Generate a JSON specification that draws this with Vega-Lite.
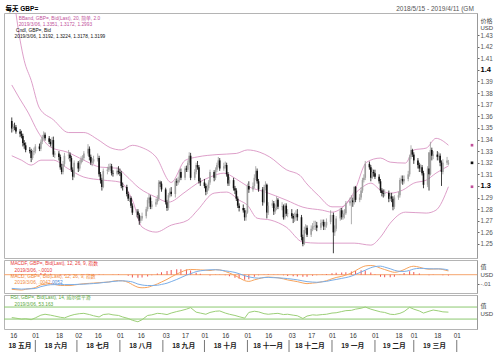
{
"$schema": "https://vega.github.io/schema/vega-lite/v6.json",
"background": "white",
"padding": {"left": 3, "top": 4, "right": 0, "bottom": 0},
"config": {"font": "Liberation Sans, Noto Sans CJK SC, sans-serif", "view": {"stroke": "#b4b4b4"}, "axis": {"grid": false, "labelOverlap": false}},
"spacing": 0,
"resolve": {"scale": {"x": "shared"}},
"datasets": {
"candles": [
{"d":"2018-05-15","o":1.3560,"c":1.3495,"h":1.3590,"l":1.3460},
{"d":"2018-05-16","o":1.3495,"c":1.3510,"h":1.3535,"l":1.3470},
{"d":"2018-05-17","o":1.3510,"c":1.3505,"h":1.3545,"l":1.3480},
{"d":"2018-05-18","o":1.3505,"c":1.3470,"h":1.3525,"l":1.3450},
{"d":"2018-05-21","o":1.3470,"c":1.3450,"h":1.3490,"l":1.3420},
{"d":"2018-05-22","o":1.3450,"c":1.3430,"h":1.3475,"l":1.3410},
{"d":"2018-05-23","o":1.3430,"c":1.3370,"h":1.3450,"l":1.3340},
{"d":"2018-05-24","o":1.3370,"c":1.3350,"h":1.3395,"l":1.3320},
{"d":"2018-05-25","o":1.3350,"c":1.3310,"h":1.3375,"l":1.3290},
{"d":"2018-05-28","o":1.3310,"c":1.3300,"h":1.3335,"l":1.3280},
{"d":"2018-05-29","o":1.3300,"c":1.3240,"h":1.3320,"l":1.3205},
{"d":"2018-05-30","o":1.3240,"c":1.3290,"h":1.3310,"l":1.3225},
{"d":"2018-05-31","o":1.3290,"c":1.3300,"h":1.3330,"l":1.3265},
{"d":"2018-06-01","o":1.3300,"c":1.3340,"h":1.3360,"l":1.3280},
{"d":"2018-06-04","o":1.3340,"c":1.3320,"h":1.3365,"l":1.3300},
{"d":"2018-06-05","o":1.3320,"c":1.3380,"h":1.3400,"l":1.3300},
{"d":"2018-06-06","o":1.3380,"c":1.3420,"h":1.3440,"l":1.3360},
{"d":"2018-06-07","o":1.3420,"c":1.3440,"h":1.3470,"l":1.3400},
{"d":"2018-06-08","o":1.3440,"c":1.3410,"h":1.3460,"l":1.3390},
{"d":"2018-06-11","o":1.3410,"c":1.3380,"h":1.3430,"l":1.3360},
{"d":"2018-06-12","o":1.3380,"c":1.3360,"h":1.3405,"l":1.3340},
{"d":"2018-06-13","o":1.3360,"c":1.3395,"h":1.3420,"l":1.3330},
{"d":"2018-06-14","o":1.3395,"c":1.3270,"h":1.3425,"l":1.3250},
{"d":"2018-06-15","o":1.3270,"c":1.3280,"h":1.3300,"l":1.3240},
{"d":"2018-06-18","o":1.3280,"c":1.3250,"h":1.3300,"l":1.3220},
{"d":"2018-06-19","o":1.3250,"c":1.3160,"h":1.3270,"l":1.3140},
{"d":"2018-06-20","o":1.3160,"c":1.3120,"h":1.3190,"l":1.3100},
{"d":"2018-06-21","o":1.3120,"c":1.3190,"h":1.3215,"l":1.3100},
{"d":"2018-06-22","o":1.3190,"c":1.3260,"h":1.3285,"l":1.3170},
{"d":"2018-06-25","o":1.3260,"c":1.3270,"h":1.3310,"l":1.3230},
{"d":"2018-06-26","o":1.3270,"c":1.3240,"h":1.3290,"l":1.3210},
{"d":"2018-06-27","o":1.3240,"c":1.3140,"h":1.3260,"l":1.3120},
{"d":"2018-06-28","o":1.3140,"c":1.3080,"h":1.3160,"l":1.3050},
{"d":"2018-06-29","o":1.3080,"c":1.3200,"h":1.3220,"l":1.3070},
{"d":"2018-07-02","o":1.3200,"c":1.3150,"h":1.3215,"l":1.3120},
{"d":"2018-07-03","o":1.3150,"c":1.3200,"h":1.3225,"l":1.3130},
{"d":"2018-07-04","o":1.3200,"c":1.3230,"h":1.3255,"l":1.3185},
{"d":"2018-07-05","o":1.3230,"c":1.3240,"h":1.3265,"l":1.3205},
{"d":"2018-07-06","o":1.3240,"c":1.3280,"h":1.3300,"l":1.3220},
{"d":"2018-07-09","o":1.3280,"c":1.3320,"h":1.3360,"l":1.3260},
{"d":"2018-07-10","o":1.3320,"c":1.3250,"h":1.3340,"l":1.3220},
{"d":"2018-07-11","o":1.3250,"c":1.3200,"h":1.3270,"l":1.3180},
{"d":"2018-07-12","o":1.3200,"c":1.3210,"h":1.3240,"l":1.3170},
{"d":"2018-07-13","o":1.3210,"c":1.3230,"h":1.3260,"l":1.3190},
{"d":"2018-07-16","o":1.3230,"c":1.3240,"h":1.3280,"l":1.3210},
{"d":"2018-07-17","o":1.3240,"c":1.3100,"h":1.3260,"l":1.3080},
{"d":"2018-07-18","o":1.3100,"c":1.3050,"h":1.3120,"l":1.3020},
{"d":"2018-07-19","o":1.3050,"c":1.2990,"h":1.3070,"l":1.2960},
{"d":"2018-07-20","o":1.2990,"c":1.3130,"h":1.3150,"l":1.2980},
{"d":"2018-07-23","o":1.3130,"c":1.3140,"h":1.3165,"l":1.3100},
{"d":"2018-07-24","o":1.3140,"c":1.3160,"h":1.3190,"l":1.3120},
{"d":"2018-07-25","o":1.3160,"c":1.3170,"h":1.3195,"l":1.3130},
{"d":"2018-07-26","o":1.3170,"c":1.3110,"h":1.3190,"l":1.3090},
{"d":"2018-07-27","o":1.3110,"c":1.3105,"h":1.3135,"l":1.3080},
{"d":"2018-07-30","o":1.3105,"c":1.3130,"h":1.3160,"l":1.3090},
{"d":"2018-07-31","o":1.3130,"c":1.3120,"h":1.3170,"l":1.3100},
{"d":"2018-08-01","o":1.3120,"c":1.3110,"h":1.3150,"l":1.3085},
{"d":"2018-08-02","o":1.3110,"c":1.3000,"h":1.3130,"l":1.2980},
{"d":"2018-08-03","o":1.3000,"c":1.2990,"h":1.3030,"l":1.2960},
{"d":"2018-08-06","o":1.2990,"c":1.2930,"h":1.3010,"l":1.2910},
{"d":"2018-08-07","o":1.2930,"c":1.2890,"h":1.2950,"l":1.2870},
{"d":"2018-08-08","o":1.2890,"c":1.2895,"h":1.2920,"l":1.2860},
{"d":"2018-08-09","o":1.2895,"c":1.2830,"h":1.2910,"l":1.2810},
{"d":"2018-08-10","o":1.2830,"c":1.2770,"h":1.2850,"l":1.2750},
{"d":"2018-08-13","o":1.2770,"c":1.2780,"h":1.2800,"l":1.2730},
{"d":"2018-08-14","o":1.2780,"c":1.2750,"h":1.2800,"l":1.2720},
{"d":"2018-08-15","o":1.2750,"c":1.2700,"h":1.2765,"l":1.2665},
{"d":"2018-08-16","o":1.2700,"c":1.2720,"h":1.2740,"l":1.2680},
{"d":"2018-08-17","o":1.2720,"c":1.2740,"h":1.2770,"l":1.2700},
{"d":"2018-08-20","o":1.2740,"c":1.2800,"h":1.2820,"l":1.2720},
{"d":"2018-08-21","o":1.2800,"c":1.2880,"h":1.2900,"l":1.2780},
{"d":"2018-08-22","o":1.2880,"c":1.2900,"h":1.2930,"l":1.2850},
{"d":"2018-08-23","o":1.2900,"c":1.2820,"h":1.2920,"l":1.2800},
{"d":"2018-08-24","o":1.2820,"c":1.2840,"h":1.2870,"l":1.2800},
{"d":"2018-08-27","o":1.2840,"c":1.2860,"h":1.2890,"l":1.2820},
{"d":"2018-08-28","o":1.2860,"c":1.2890,"h":1.2920,"l":1.2840},
{"d":"2018-08-29","o":1.2890,"c":1.3030,"h":1.3050,"l":1.2870},
{"d":"2018-08-30","o":1.3030,"c":1.3020,"h":1.3045,"l":1.2990},
{"d":"2018-08-31","o":1.3020,"c":1.2970,"h":1.3040,"l":1.2950},
{"d":"2018-09-03","o":1.2970,"c":1.2860,"h":1.2985,"l":1.2840},
{"d":"2018-09-04","o":1.2860,"c":1.2810,"h":1.2880,"l":1.2785},
{"d":"2018-09-05","o":1.2810,"c":1.2920,"h":1.2940,"l":1.2790},
{"d":"2018-09-06","o":1.2920,"c":1.2950,"h":1.2980,"l":1.2900},
{"d":"2018-09-07","o":1.2950,"c":1.2930,"h":1.2990,"l":1.2910},
{"d":"2018-09-10","o":1.2930,"c":1.3040,"h":1.3060,"l":1.2900},
{"d":"2018-09-11","o":1.3040,"c":1.3030,"h":1.3065,"l":1.3000},
{"d":"2018-09-12","o":1.3030,"c":1.3050,"h":1.3080,"l":1.3010},
{"d":"2018-09-13","o":1.3050,"c":1.3120,"h":1.3140,"l":1.3030},
{"d":"2018-09-14","o":1.3120,"c":1.3070,"h":1.3150,"l":1.3050},
{"d":"2018-09-17","o":1.3070,"c":1.3150,"h":1.3170,"l":1.3050},
{"d":"2018-09-18","o":1.3150,"c":1.3140,"h":1.3175,"l":1.3120},
{"d":"2018-09-19","o":1.3140,"c":1.3200,"h":1.3220,"l":1.3120},
{"d":"2018-09-20","o":1.3200,"c":1.3260,"h":1.3290,"l":1.3180},
{"d":"2018-09-21","o":1.3260,"c":1.3070,"h":1.3285,"l":1.3050},
{"d":"2018-09-24","o":1.3070,"c":1.3120,"h":1.3145,"l":1.3050},
{"d":"2018-09-25","o":1.3120,"c":1.3180,"h":1.3200,"l":1.3100},
{"d":"2018-09-26","o":1.3180,"c":1.3160,"h":1.3215,"l":1.3140},
{"d":"2018-09-27","o":1.3160,"c":1.3040,"h":1.3180,"l":1.3020},
{"d":"2018-09-28","o":1.3040,"c":1.3030,"h":1.3070,"l":1.3000},
{"d":"2018-10-01","o":1.3030,"c":1.3000,"h":1.3060,"l":1.2980},
{"d":"2018-10-02","o":1.3000,"c":1.2950,"h":1.3020,"l":1.2920},
{"d":"2018-10-03","o":1.2950,"c":1.2980,"h":1.3010,"l":1.2930},
{"d":"2018-10-04","o":1.2980,"c":1.3030,"h":1.3050,"l":1.2960},
{"d":"2018-10-05","o":1.3030,"c":1.3120,"h":1.3140,"l":1.3010},
{"d":"2018-10-08","o":1.3120,"c":1.3070,"h":1.3135,"l":1.3040},
{"d":"2018-10-09","o":1.3070,"c":1.3140,"h":1.3160,"l":1.3050},
{"d":"2018-10-10","o":1.3140,"c":1.3180,"h":1.3200,"l":1.3120},
{"d":"2018-10-11","o":1.3180,"c":1.3220,"h":1.3250,"l":1.3160},
{"d":"2018-10-12","o":1.3220,"c":1.3150,"h":1.3240,"l":1.3130},
{"d":"2018-10-15","o":1.3150,"c":1.3170,"h":1.3200,"l":1.3130},
{"d":"2018-10-16","o":1.3170,"c":1.3180,"h":1.3210,"l":1.3150},
{"d":"2018-10-17","o":1.3180,"c":1.3100,"h":1.3200,"l":1.3080},
{"d":"2018-10-18","o":1.3100,"c":1.3020,"h":1.3120,"l":1.3000},
{"d":"2018-10-19","o":1.3020,"c":1.3050,"h":1.3080,"l":1.3000},
{"d":"2018-10-22","o":1.3050,"c":1.2980,"h":1.3070,"l":1.2960},
{"d":"2018-10-23","o":1.2980,"c":1.2960,"h":1.3000,"l":1.2930},
{"d":"2018-10-24","o":1.2960,"c":1.2890,"h":1.2980,"l":1.2870},
{"d":"2018-10-25","o":1.2890,"c":1.2830,"h":1.2910,"l":1.2810},
{"d":"2018-10-26","o":1.2830,"c":1.2810,"h":1.2850,"l":1.2780},
{"d":"2018-10-29","o":1.2810,"c":1.2790,"h":1.2840,"l":1.2770},
{"d":"2018-10-30","o":1.2790,"c":1.2730,"h":1.2810,"l":1.2700},
{"d":"2018-10-31","o":1.2730,"c":1.2770,"h":1.2790,"l":1.2700},
{"d":"2018-11-01","o":1.2770,"c":1.3000,"h":1.3020,"l":1.2760},
{"d":"2018-11-02","o":1.3000,"c":1.2970,"h":1.3040,"l":1.2940},
{"d":"2018-11-05","o":1.2970,"c":1.3000,"h":1.3030,"l":1.2950},
{"d":"2018-11-06","o":1.3000,"c":1.3070,"h":1.3100,"l":1.2980},
{"d":"2018-11-07","o":1.3070,"c":1.3130,"h":1.3170,"l":1.3050},
{"d":"2018-11-08","o":1.3130,"c":1.3040,"h":1.3150,"l":1.3020},
{"d":"2018-11-09","o":1.3040,"c":1.2970,"h":1.3060,"l":1.2950},
{"d":"2018-11-12","o":1.2970,"c":1.2860,"h":1.2990,"l":1.2830},
{"d":"2018-11-13","o":1.2860,"c":1.2990,"h":1.3010,"l":1.2850},
{"d":"2018-11-14","o":1.2990,"c":1.3010,"h":1.3040,"l":1.2960},
{"d":"2018-11-15","o":1.3010,"c":1.2770,"h":1.3020,"l":1.2720},
{"d":"2018-11-16","o":1.2770,"c":1.2830,"h":1.2860,"l":1.2750},
{"d":"2018-11-19","o":1.2830,"c":1.2850,"h":1.2880,"l":1.2810},
{"d":"2018-11-20","o":1.2850,"c":1.2780,"h":1.2870,"l":1.2750},
{"d":"2018-11-21","o":1.2780,"c":1.2810,"h":1.2840,"l":1.2760},
{"d":"2018-11-22","o":1.2810,"c":1.2880,"h":1.2910,"l":1.2790},
{"d":"2018-11-23","o":1.2880,"c":1.2820,"h":1.2895,"l":1.2800},
{"d":"2018-11-26","o":1.2820,"c":1.2825,"h":1.2860,"l":1.2790},
{"d":"2018-11-27","o":1.2825,"c":1.2730,"h":1.2840,"l":1.2710},
{"d":"2018-11-28","o":1.2730,"c":1.2830,"h":1.2850,"l":1.2710},
{"d":"2018-11-29","o":1.2830,"c":1.2760,"h":1.2850,"l":1.2740},
{"d":"2018-11-30","o":1.2760,"c":1.2765,"h":1.2800,"l":1.2730},
{"d":"2018-12-03","o":1.2765,"c":1.2740,"h":1.2800,"l":1.2720},
{"d":"2018-12-04","o":1.2740,"c":1.2720,"h":1.2760,"l":1.2680},
{"d":"2018-12-05","o":1.2720,"c":1.2730,"h":1.2770,"l":1.2690},
{"d":"2018-12-06","o":1.2730,"c":1.2760,"h":1.2790,"l":1.2700},
{"d":"2018-12-07","o":1.2760,"c":1.2730,"h":1.2800,"l":1.2700},
{"d":"2018-12-10","o":1.2730,"c":1.2560,"h":1.2750,"l":1.2530},
{"d":"2018-12-11","o":1.2560,"c":1.2500,"h":1.2580,"l":1.2480},
{"d":"2018-12-12","o":1.2500,"c":1.2620,"h":1.2650,"l":1.2490},
{"d":"2018-12-13","o":1.2620,"c":1.2640,"h":1.2670,"l":1.2590},
{"d":"2018-12-14","o":1.2640,"c":1.2580,"h":1.2660,"l":1.2560},
{"d":"2018-12-17","o":1.2580,"c":1.2630,"h":1.2660,"l":1.2560},
{"d":"2018-12-18","o":1.2630,"c":1.2650,"h":1.2680,"l":1.2610},
{"d":"2018-12-19","o":1.2650,"c":1.2655,"h":1.2700,"l":1.2620},
{"d":"2018-12-20","o":1.2655,"c":1.2660,"h":1.2700,"l":1.2620},
{"d":"2018-12-21","o":1.2660,"c":1.2640,"h":1.2690,"l":1.2610},
{"d":"2018-12-24","o":1.2640,"c":1.2680,"h":1.2710,"l":1.2620},
{"d":"2018-12-25","o":1.2680,"c":1.2690,"h":1.2710,"l":1.2660},
{"d":"2018-12-26","o":1.2690,"c":1.2650,"h":1.2710,"l":1.2620},
{"d":"2018-12-27","o":1.2650,"c":1.2660,"h":1.2690,"l":1.2620},
{"d":"2018-12-28","o":1.2660,"c":1.2690,"h":1.2720,"l":1.2640},
{"d":"2018-12-31","o":1.2690,"c":1.2750,"h":1.2790,"l":1.2670},
{"d":"2019-01-02","o":1.2750,"c":1.2600,"h":1.2770,"l":1.2420},
{"d":"2019-01-03","o":1.2600,"c":1.2630,"h":1.2660,"l":1.2570},
{"d":"2019-01-04","o":1.2630,"c":1.2720,"h":1.2740,"l":1.2610},
{"d":"2019-01-07","o":1.2720,"c":1.2790,"h":1.2810,"l":1.2700},
{"d":"2019-01-08","o":1.2790,"c":1.2730,"h":1.2810,"l":1.2710},
{"d":"2019-01-09","o":1.2730,"c":1.2760,"h":1.2790,"l":1.2710},
{"d":"2019-01-10","o":1.2760,"c":1.2765,"h":1.2800,"l":1.2720},
{"d":"2019-01-11","o":1.2765,"c":1.2850,"h":1.2870,"l":1.2750},
{"d":"2019-01-14","o":1.2850,"c":1.2870,"h":1.2900,"l":1.2830},
{"d":"2019-01-15","o":1.2870,"c":1.2875,"h":1.2920,"l":1.2670},
{"d":"2019-01-16","o":1.2875,"c":1.2860,"h":1.2900,"l":1.2820},
{"d":"2019-01-17","o":1.2860,"c":1.2990,"h":1.3000,"l":1.2840},
{"d":"2019-01-18","o":1.2990,"c":1.2880,"h":1.3000,"l":1.2860},
{"d":"2019-01-21","o":1.2880,"c":1.2900,"h":1.2930,"l":1.2860},
{"d":"2019-01-22","o":1.2900,"c":1.2960,"h":1.2990,"l":1.2880},
{"d":"2019-01-23","o":1.2960,"c":1.3050,"h":1.3070,"l":1.2940},
{"d":"2019-01-24","o":1.3050,"c":1.3070,"h":1.3100,"l":1.3030},
{"d":"2019-01-25","o":1.3070,"c":1.3190,"h":1.3215,"l":1.3050},
{"d":"2019-01-28","o":1.3190,"c":1.3160,"h":1.3210,"l":1.3140},
{"d":"2019-01-29","o":1.3160,"c":1.3070,"h":1.3180,"l":1.3040},
{"d":"2019-01-30","o":1.3070,"c":1.3120,"h":1.3150,"l":1.3060},
{"d":"2019-01-31","o":1.3120,"c":1.3110,"h":1.3140,"l":1.3080},
{"d":"2019-02-01","o":1.3110,"c":1.3080,"h":1.3140,"l":1.3060},
{"d":"2019-02-04","o":1.3080,"c":1.3040,"h":1.3100,"l":1.3020},
{"d":"2019-02-05","o":1.3040,"c":1.2960,"h":1.3060,"l":1.2940},
{"d":"2019-02-06","o":1.2960,"c":1.2940,"h":1.2980,"l":1.2910},
{"d":"2019-02-07","o":1.2940,"c":1.2930,"h":1.2970,"l":1.2900},
{"d":"2019-02-08","o":1.2930,"c":1.2940,"h":1.2970,"l":1.2910},
{"d":"2019-02-11","o":1.2940,"c":1.2890,"h":1.2960,"l":1.2860},
{"d":"2019-02-12","o":1.2890,"c":1.2910,"h":1.2940,"l":1.2870},
{"d":"2019-02-13","o":1.2910,"c":1.2890,"h":1.2940,"l":1.2860},
{"d":"2019-02-14","o":1.2890,"c":1.2820,"h":1.2910,"l":1.2790},
{"d":"2019-02-15","o":1.2820,"c":1.2900,"h":1.2920,"l":1.2800},
{"d":"2019-02-18","o":1.2900,"c":1.2920,"h":1.2950,"l":1.2880},
{"d":"2019-02-19","o":1.2920,"c":1.3050,"h":1.3070,"l":1.2900},
{"d":"2019-02-20","o":1.3050,"c":1.3060,"h":1.3090,"l":1.3020},
{"d":"2019-02-21","o":1.3060,"c":1.3040,"h":1.3090,"l":1.3010},
{"d":"2019-02-22","o":1.3040,"c":1.3060,"h":1.3090,"l":1.3020},
{"d":"2019-02-25","o":1.3060,"c":1.3100,"h":1.3130,"l":1.3040},
{"d":"2019-02-26","o":1.3100,"c":1.3250,"h":1.3270,"l":1.3080},
{"d":"2019-02-27","o":1.3250,"c":1.3310,"h":1.3350,"l":1.3230},
{"d":"2019-02-28","o":1.3310,"c":1.3270,"h":1.3320,"l":1.3250},
{"d":"2019-03-01","o":1.3270,"c":1.3220,"h":1.3290,"l":1.3190},
{"d":"2019-03-04","o":1.3220,"c":1.3180,"h":1.3240,"l":1.3150},
{"d":"2019-03-05","o":1.3180,"c":1.3150,"h":1.3200,"l":1.3120},
{"d":"2019-03-06","o":1.3150,"c":1.3160,"h":1.3190,"l":1.3120},
{"d":"2019-03-07","o":1.3160,"c":1.3110,"h":1.3180,"l":1.3090},
{"d":"2019-03-08","o":1.3110,"c":1.3010,"h":1.3130,"l":1.2980},
{"d":"2019-03-11","o":1.3010,"c":1.3150,"h":1.3170,"l":1.2990},
{"d":"2019-03-12","o":1.3150,"c":1.3100,"h":1.3290,"l":1.2960},
{"d":"2019-03-13","o":1.3100,"c":1.3310,"h":1.3380,"l":1.3090},
{"d":"2019-03-14","o":1.3310,"c":1.3260,"h":1.3330,"l":1.3220},
{"d":"2019-03-15","o":1.3260,"c":1.3270,"h":1.3300,"l":1.3230},
{"d":"2019-03-18","o":1.3270,"c":1.3250,"h":1.3300,"l":1.3220},
{"d":"2019-03-19","o":1.3250,"c":1.3260,"h":1.3290,"l":1.3220},
{"d":"2019-03-20","o":1.3260,"c":1.3200,"h":1.3280,"l":1.3170},
{"d":"2019-03-21","o":1.3200,"c":1.3120,"h":1.3220,"l":1.3000},
{"d":"2019-03-22","o":1.3120,"c":1.3200,"h":1.3230,"l":1.3100},
{"d":"2019-03-25","o":1.3200,"c":1.3220,"h":1.3250,"l":1.3180},
{"d":"2019-03-26","o":1.3192,"c":1.3199,"h":1.3224,"l":1.3178}
],
"bands": [
{"b":"u","d":"2018-05-15","v":1.478},{"b":"u","d":"2018-05-18","v":1.449},{"b":"u","d":"2018-05-24","v":1.408},{"b":"u","d":"2018-05-29","v":1.391},{"b":"u","d":"2018-06-04","v":1.367},{"b":"u","d":"2018-06-14","v":1.357},{"b":"u","d":"2018-06-25","v":1.346},{"b":"u","d":"2018-07-06","v":1.346},{"b":"u","d":"2018-07-16","v":1.340},{"b":"u","d":"2018-07-25","v":1.333},{"b":"u","d":"2018-08-02","v":1.331},{"b":"u","d":"2018-08-10","v":1.335},{"b":"u","d":"2018-08-17","v":1.333},{"b":"u","d":"2018-08-27","v":1.325},{"b":"u","d":"2018-09-07","v":1.303},{"b":"u","d":"2018-09-17","v":1.322},{"b":"u","d":"2018-09-26","v":1.325},{"b":"u","d":"2018-10-10","v":1.327},{"b":"u","d":"2018-10-24","v":1.328},{"b":"u","d":"2018-11-01","v":1.331},{"b":"u","d":"2018-11-10","v":1.329},{"b":"u","d":"2018-11-17","v":1.325},{"b":"u","d":"2018-11-29","v":1.314},{"b":"u","d":"2018-12-09","v":1.309},{"b":"u","d":"2018-12-13","v":1.303},{"b":"u","d":"2018-12-22","v":1.292},{"b":"u","d":"2019-01-01","v":1.282},{"b":"u","d":"2019-01-08","v":1.282},{"b":"u","d":"2019-01-17","v":1.295},{"b":"u","d":"2019-01-26","v":1.3205},{"b":"u","d":"2019-02-05","v":1.324},{"b":"u","d":"2019-02-12","v":1.3205},{"b":"u","d":"2019-02-23","v":1.3197},{"b":"u","d":"2019-03-01","v":1.331},{"b":"u","d":"2019-03-10","v":1.3326},{"b":"u","d":"2019-03-17","v":1.341},{"b":"u","d":"2019-03-26","v":1.3351},
{"b":"m","d":"2018-05-15","v":1.387},{"b":"m","d":"2018-05-20","v":1.3766},{"b":"m","d":"2018-05-27","v":1.3628},{"b":"m","d":"2018-06-03","v":1.3464},{"b":"m","d":"2018-06-12","v":1.3334},{"b":"m","d":"2018-06-24","v":1.3291},{"b":"m","d":"2018-07-06","v":1.3222},{"b":"m","d":"2018-07-18","v":1.3162},{"b":"m","d":"2018-07-30","v":1.3153},{"b":"m","d":"2018-08-05","v":1.3093},{"b":"m","d":"2018-08-15","v":1.2981},{"b":"m","d":"2018-08-27","v":1.2903},{"b":"m","d":"2018-09-05","v":1.2860},{"b":"m","d":"2018-09-17","v":1.2947},{"b":"m","d":"2018-09-26","v":1.3024},{"b":"m","d":"2018-10-05","v":1.3076},{"b":"m","d":"2018-10-15","v":1.3110},{"b":"m","d":"2018-10-24","v":1.3059},{"b":"m","d":"2018-11-01","v":1.2998},{"b":"m","d":"2018-11-14","v":1.2947},{"b":"m","d":"2018-11-29","v":1.2878},{"b":"m","d":"2018-12-11","v":1.2817},{"b":"m","d":"2018-12-25","v":1.2791},{"b":"m","d":"2019-01-01","v":1.2774},{"b":"m","d":"2019-01-08","v":1.2809},{"b":"m","d":"2019-01-15","v":1.2903},{"b":"m","d":"2019-01-22","v":1.2981},{"b":"m","d":"2019-01-29","v":1.3024},{"b":"m","d":"2019-02-05","v":1.2964},{"b":"m","d":"2019-02-12","v":1.2938},{"b":"m","d":"2019-02-21","v":1.2964},{"b":"m","d":"2019-03-01","v":1.3024},{"b":"m","d":"2019-03-10","v":1.3050},{"b":"m","d":"2019-03-17","v":1.3110},{"b":"m","d":"2019-03-26","v":1.3172},
{"b":"l","d":"2018-05-15","v":1.326},{"b":"l","d":"2018-05-22","v":1.3222},{"b":"l","d":"2018-05-29","v":1.3179},{"b":"l","d":"2018-06-05","v":1.3222},{"b":"l","d":"2018-06-14","v":1.3222},{"b":"l","d":"2018-06-24","v":1.3153},{"b":"l","d":"2018-07-06","v":1.3076},{"b":"l","d":"2018-07-20","v":1.3050},{"b":"l","d":"2018-08-01","v":1.3033},{"b":"l","d":"2018-08-10","v":1.2878},{"b":"l","d":"2018-08-17","v":1.2645},{"b":"l","d":"2018-08-27","v":1.2602},{"b":"l","d":"2018-09-07","v":1.2662},{"b":"l","d":"2018-09-19","v":1.2705},{"b":"l","d":"2018-09-26","v":1.2791},{"b":"l","d":"2018-10-08","v":1.2938},{"b":"l","d":"2018-10-17","v":1.2947},{"b":"l","d":"2018-10-26","v":1.2878},{"b":"l","d":"2018-11-01","v":1.2834},{"b":"l","d":"2018-11-08","v":1.2722},{"b":"l","d":"2018-11-18","v":1.2705},{"b":"l","d":"2018-11-29","v":1.2645},{"b":"l","d":"2018-12-11","v":1.2516},{"b":"l","d":"2018-12-22","v":1.2507},{"b":"l","d":"2019-01-03","v":1.2507},{"b":"l","d":"2019-01-17","v":1.2507},{"b":"l","d":"2019-01-29","v":1.2490},{"b":"l","d":"2019-02-05","v":1.2559},{"b":"l","d":"2019-02-12","v":1.2679},{"b":"l","d":"2019-02-23","v":1.2774},{"b":"l","d":"2019-03-10","v":1.2766},{"b":"l","d":"2019-03-17","v":1.2791},{"b":"l","d":"2019-03-26","v":1.2993}
],
"ind": [
{"d":"2018-05-15","m":-0.0162,"s":-0.0152,"h":-0.0010,"r":35},
{"d":"2018-05-18","m":-0.0166,"s":-0.0156,"h":-0.0010,"r":33},
{"d":"2018-05-22","m":-0.0170,"s":-0.0160,"h":-0.0010,"r":30},
{"d":"2018-05-25","m":-0.0162,"s":-0.0158,"h":-0.0004,"r":31},
{"d":"2018-05-29","m":-0.0153,"s":-0.0156,"h":0.0003,"r":28},
{"d":"2018-06-01","m":-0.0143,"s":-0.0153,"h":0.0010,"r":34},
{"d":"2018-06-05","m":-0.0112,"s":-0.0132,"h":0.0020,"r":43},
{"d":"2018-06-08","m":-0.0106,"s":-0.0122,"h":0.0016,"r":46},
{"d":"2018-06-12","m":-0.0100,"s":-0.0111,"h":0.0011,"r":43},
{"d":"2018-06-15","m":-0.0108,"s":-0.0110,"h":0.0002,"r":40},
{"d":"2018-06-19","m":-0.0119,"s":-0.0110,"h":-0.0009,"r":36},
{"d":"2018-06-22","m":-0.0120,"s":-0.0110,"h":-0.0010,"r":34},
{"d":"2018-06-26","m":-0.0120,"s":-0.0110,"h":-0.0010,"r":41},
{"d":"2018-06-29","m":-0.0114,"s":-0.0109,"h":-0.0005,"r":45},
{"d":"2018-07-03","m":-0.0106,"s":-0.0106,"h":0.0000,"r":48},
{"d":"2018-07-06","m":-0.0100,"s":-0.0105,"h":0.0005,"r":49},
{"d":"2018-07-10","m":-0.0096,"s":-0.0101,"h":0.0005,"r":45},
{"d":"2018-07-13","m":-0.0093,"s":-0.0098,"h":0.0005,"r":41},
{"d":"2018-07-17","m":-0.0088,"s":-0.0093,"h":0.0005,"r":37},
{"d":"2018-07-20","m":-0.0085,"s":-0.0087,"h":0.0002,"r":45},
{"d":"2018-07-24","m":-0.0081,"s":-0.0081,"h":0.0000,"r":47},
{"d":"2018-07-27","m":-0.0072,"s":-0.0075,"h":0.0003,"r":44},
{"d":"2018-07-31","m":-0.0065,"s":-0.0070,"h":0.0005,"r":42},
{"d":"2018-08-03","m":-0.0068,"s":-0.0068,"h":0.0000,"r":37},
{"d":"2018-08-07","m":-0.0085,"s":-0.0073,"h":-0.0012,"r":32},
{"d":"2018-08-10","m":-0.0110,"s":-0.0080,"h":-0.0030,"r":26},
{"d":"2018-08-14","m":-0.0139,"s":-0.0104,"h":-0.0035,"r":21},
{"d":"2018-08-17","m":-0.0145,"s":-0.0114,"h":-0.0031,"r":28},
{"d":"2018-08-21","m":-0.0140,"s":-0.0120,"h":-0.0020,"r":42},
{"d":"2018-08-24","m":-0.0125,"s":-0.0120,"h":-0.0005,"r":44},
{"d":"2018-08-28","m":-0.0103,"s":-0.0117,"h":0.0014,"r":49},
{"d":"2018-08-31","m":-0.0081,"s":-0.0108,"h":0.0027,"r":48},
{"d":"2018-09-04","m":-0.0052,"s":-0.0094,"h":0.0042,"r":45},
{"d":"2018-09-07","m":-0.0025,"s":-0.0077,"h":0.0052,"r":50},
{"d":"2018-09-11","m":0.0007,"s":-0.0053,"h":0.0060,"r":55},
{"d":"2018-09-14","m":0.0028,"s":-0.0032,"h":0.0060,"r":58},
{"d":"2018-09-18","m":0.0052,"s":-0.0005,"h":0.0057,"r":63},
{"d":"2018-09-21","m":0.0058,"s":0.0011,"h":0.0047,"r":68},
{"d":"2018-09-25","m":0.0056,"s":0.0034,"h":0.0022,"r":53},
{"d":"2018-09-28","m":0.0053,"s":0.0043,"h":0.0010,"r":50},
{"d":"2018-10-02","m":0.0050,"s":0.0051,"h":-0.0001,"r":46},
{"d":"2018-10-05","m":0.0046,"s":0.0055,"h":-0.0009,"r":52},
{"d":"2018-10-09","m":0.0056,"s":0.0055,"h":0.0001,"r":56},
{"d":"2018-10-12","m":0.0053,"s":0.0052,"h":0.0001,"r":57},
{"d":"2018-10-16","m":0.0036,"s":0.0043,"h":-0.0007,"r":50},
{"d":"2018-10-19","m":0.0019,"s":0.0036,"h":-0.0017,"r":46},
{"d":"2018-10-23","m":-0.0009,"s":0.0025,"h":-0.0034,"r":42},
{"d":"2018-10-26","m":-0.0033,"s":0.0011,"h":-0.0044,"r":38},
{"d":"2018-10-30","m":-0.0066,"s":-0.0011,"h":-0.0055,"r":33},
{"d":"2018-11-02","m":-0.0074,"s":-0.0024,"h":-0.0050,"r":52},
{"d":"2018-11-06","m":-0.0057,"s":-0.0035,"h":-0.0022,"r":56},
{"d":"2018-11-09","m":-0.0045,"s":-0.0038,"h":-0.0007,"r":54},
{"d":"2018-11-13","m":-0.0031,"s":-0.0032,"h":0.0001,"r":48},
{"d":"2018-11-16","m":-0.0026,"s":-0.0030,"h":0.0004,"r":46},
{"d":"2018-11-20","m":-0.0030,"s":-0.0033,"h":0.0003,"r":48},
{"d":"2018-11-23","m":-0.0034,"s":-0.0035,"h":0.0001,"r":49},
{"d":"2018-11-27","m":-0.0046,"s":-0.0039,"h":-0.0007,"r":45},
{"d":"2018-11-30","m":-0.0058,"s":-0.0043,"h":-0.0015,"r":46},
{"d":"2018-12-04","m":-0.0069,"s":-0.0051,"h":-0.0018,"r":43},
{"d":"2018-12-07","m":-0.0077,"s":-0.0057,"h":-0.0020,"r":41},
{"d":"2018-12-11","m":-0.0092,"s":-0.0069,"h":-0.0023,"r":32},
{"d":"2018-12-14","m":-0.0099,"s":-0.0077,"h":-0.0022,"r":40},
{"d":"2018-12-18","m":-0.0093,"s":-0.0082,"h":-0.0011,"r":44},
{"d":"2018-12-21","m":-0.0089,"s":-0.0084,"h":-0.0005,"r":43},
{"d":"2018-12-25","m":-0.0078,"s":-0.0079,"h":0.0001,"r":45},
{"d":"2018-12-28","m":-0.0067,"s":-0.0074,"h":0.0007,"r":46},
{"d":"2019-01-01","m":-0.0045,"s":-0.0061,"h":0.0016,"r":50},
{"d":"2019-01-04","m":-0.0031,"s":-0.0053,"h":0.0022,"r":51},
{"d":"2019-01-08","m":-0.0018,"s":-0.0041,"h":0.0023,"r":55},
{"d":"2019-01-11","m":-0.0004,"s":-0.0032,"h":0.0028,"r":58},
{"d":"2019-01-15","m":0.0019,"s":-0.0016,"h":0.0035,"r":59},
{"d":"2019-01-18","m":0.0045,"s":0.0003,"h":0.0042,"r":63},
{"d":"2019-01-22","m":0.0079,"s":0.0030,"h":0.0049,"r":66},
{"d":"2019-01-25","m":0.0097,"s":0.0050,"h":0.0047,"r":70},
{"d":"2019-01-29","m":0.0102,"s":0.0077,"h":0.0025,"r":63},
{"d":"2019-02-01","m":0.0096,"s":0.0090,"h":0.0006,"r":59},
{"d":"2019-02-05","m":0.0072,"s":0.0095,"h":-0.0023,"r":54},
{"d":"2019-02-08","m":0.0057,"s":0.0084,"h":-0.0027,"r":52},
{"d":"2019-02-12","m":0.0037,"s":0.0066,"h":-0.0029,"r":46},
{"d":"2019-02-15","m":0.0026,"s":0.0049,"h":-0.0023,"r":45},
{"d":"2019-02-19","m":0.0038,"s":0.0037,"h":0.0001,"r":49},
{"d":"2019-02-22","m":0.0056,"s":0.0036,"h":0.0020,"r":55},
{"d":"2019-02-26","m":0.0085,"s":0.0048,"h":0.0037,"r":69},
{"d":"2019-03-01","m":0.0094,"s":0.0063,"h":0.0031,"r":63},
{"d":"2019-03-05","m":0.0083,"s":0.0070,"h":0.0013,"r":57},
{"d":"2019-03-08","m":0.0070,"s":0.0070,"h":0.0000,"r":50},
{"d":"2019-03-12","m":0.0061,"s":0.0066,"h":-0.0005,"r":56},
{"d":"2019-03-15","m":0.0063,"s":0.0065,"h":-0.0002,"r":60},
{"d":"2019-03-19","m":0.0064,"s":0.0065,"h":-0.0001,"r":57},
{"d":"2019-03-22","m":0.0057,"s":0.0063,"h":-0.0006,"r":54},
{"d":"2019-03-26","m":0.0042,"s":0.0052,"h":-0.0010,"r":53}
],
"txt": [
{"p":"main","k":1,"d":"2018-05-20","t":"BBand, GBP=, Bid(Last), 20, 简单, 2.0","g":"bb"},
{"p":"main","k":2,"d":"2018-05-20","t":"2019/3/06, 1.3351, 1.3172, 1.2993","g":"bb"},
{"p":"main","k":3,"d":"2018-05-18","t":"Cndl, GBP=, Bid","g":"cn"},
{"p":"main","k":4,"d":"2018-05-17","t":"2019/3/06, 1.3192, 1.3224, 1.3178, 1.3199","g":"cn"},
{"p":"macd","k":0.7,"d":"2018-05-14","t":"MACDF, GBP=, Bid(Last), 12, 26, 9, 指数","g":"hist"},
{"p":"macd","k":1.8,"d":"2018-05-17","t":"2019/3/06, -.0010","g":"hist"},
{"p":"macd","k":2.8,"d":"2018-05-14","t":"MACD, GBP=, Bid(Last), 12, 26, 9, 指数","g":"macd"},
{"p":"macd","k":3.8,"d":"2018-05-17","t":"2019/3/06, .0042,","g":"macd"},
{"p":"macd","k":3.8,"d":"2018-06-12","t":".0052","g":"sig"},
{"p":"rsi","k":0.55,"d":"2018-05-14","t":"RSI, GBP=, Bid(Last), 14, 威尔德平滑","g":"rsi"},
{"p":"rsi","k":1.6,"d":"2018-05-17","t":"2019/3/06, 53.163","g":"rsi"}
],
"last": [{"v":1.3351,"g":"bb"},{"v":1.2993,"g":"bb"},{"v":1.3199,"g":"cn"}],
"mstart": [{"d":"2018-06-01"},{"d":"2018-07-01"},{"d":"2018-08-01"},{"d":"2018-09-01"},{"d":"2018-10-01"},{"d":"2018-11-01"},{"d":"2018-12-01"},{"d":"2019-01-01"},{"d":"2019-02-01"},{"d":"2019-03-01"},{"d":"2019-04-01"}],
"months": [{"d":"2018-05-21","t":"18 五月"},{"d":"2018-06-16","t":"18 六月"},{"d":"2018-07-16","t":"18 七月"},{"d":"2018-08-16","t":"18 八月"},{"d":"2018-09-16","t":"18 九月"},{"d":"2018-10-16","t":"18 十月"},{"d":"2018-11-16","t":"18 十一月"},{"d":"2018-12-16","t":"18 十二月"},{"d":"2019-01-16","t":"19 一月"},{"d":"2019-02-15","t":"19 二月"},{"d":"2019-03-16","t":"19 三月"}],
"levels": [{"lv":70},{"lv":30}],
"zero": [{"z":0}]
},
"vconcat": [
{
"width": 473, "height": 245,
"layer": [
{"layer": [
{"data": {"name": "bands"}, "mark": {"type": "line", "interpolate": "monotone", "strokeWidth": 0.8, "color": "#d487bb", "clip": true},
 "encoding": {
  "x": {"field": "d", "type": "temporal", "scale": {"domain": [{"year":2018,"month":5,"date":13,"utc":true},{"year":2019,"month":4,"date":12,"utc":true}]},
   "axis": {"orient": "top", "values": [{"year":2018,"month":5,"date":13,"utc":true},{"year":2019,"month":2,"date":16,"utc":true}], "tickCount": 100, "labelExpr": "datum.index == 0 ? '每天 GBP=' : '2018/5/15 - 2019/4/11 (GM'", "labelAlign": "left", "labelBaseline": "bottom", "labelPadding": 2, "labelOffset": {"condition": {"test": "datum.index == 0", "value": -4}, "value": 0}, "labelFontSize": 6.5, "labelColor": {"condition": {"test": "datum.index == 0", "value": "#000"}, "value": "#555"}, "labelFontWeight": {"condition": {"test": "datum.index == 0", "value": "bold"}, "value": "normal"}, "labelBound": false, "labelFlush": false, "labelOverlap": false, "ticks": false, "domain": false, "title": null}},
  "y": {"field": "v", "type": "quantitative", "scale": {"domain": [1.2379, 1.449], "nice": false, "zero": false},
   "axis": {"orient": "right", "values": [1.25,1.26,1.27,1.28,1.29,1.3,1.31,1.32,1.33,1.34,1.35,1.36,1.37,1.38,1.39,1.4,1.41,1.42,1.43], "tickCount": 100, "format": ".2~f", "labelOverlap": false, "tickSize": 2, "tickColor": "#666", "domainColor": "#999", "labelPadding": 1, "labelFontSize": {"condition": {"test": "abs(datum.value-1.4)<0.001 || abs(datum.value-1.3)<0.001", "value": 7.5}, "value": 6.3}, "labelFontWeight": {"condition": {"test": "abs(datum.value-1.4)<0.001 || abs(datum.value-1.3)<0.001", "value": "bold"}, "value": "normal"}, "labelColor": {"condition": {"test": "abs(datum.value-1.4)<0.001 || abs(datum.value-1.3)<0.001", "value": "#000"}, "value": "#555"},
    "title": ["价格", "USD"], "titleAngle": 0, "titleAlign": "left", "titleBaseline": "top", "titleX": 3, "titleY": 4, "titleFontSize": 6, "titleFontWeight": "normal", "titleColor": "#444", "titleLineHeight": 7}},
  "detail": {"field": "b"}}},
{"data": {"name": "candles"}, "mark": {"type": "rule", "strokeWidth": 0.8},
 "encoding": {"x": {"field": "d", "type": "temporal"}, "y": {"field": "l", "type": "quantitative"}, "y2": {"field": "h"},
  "color": {"condition": {"test": "datum.c < datum.o", "value": "#111"}, "value": "#999"}}},
{"data": {"name": "candles"}, "mark": {"type": "bar", "size": 1.6},
 "encoding": {"x": {"field": "d", "type": "temporal"}, "y": {"field": "o", "type": "quantitative"}, "y2": {"field": "c"},
  "color": {"condition": {"test": "datum.c < datum.o", "value": "#111"}, "value": "#a0a0a0"}}},
{"data": {"name": "last"}, "mark": {"type": "square", "size": 7, "opacity": 1, "clip": false},
 "encoding": {"x": {"datum": {"year":2019,"month":4,"date":12,"utc":true}, "type": "temporal"}, "y": {"field": "v", "type": "quantitative"},
  "color": {"field": "g", "type": "nominal", "scale": {"domain": ["bb","cn","hist","macd","sig","rsi"], "range": ["#c0509a","#111111","#e83a3a","#f08a3c","#4a86d8","#5aa83e"]}, "legend": null}}}
]},
{"data": {"name": "txt"}, "transform": [{"filter": "datum.p == 'main'"}],
 "mark": {"type": "text", "align": "left", "baseline": "middle", "fontSize": 4.8, "clip": false},
 "encoding": {"x": {"field": "d", "type": "temporal"}, "y": {"field": "k", "type": "quantitative", "scale": {"domain": [40.83, 0], "nice": false, "zero": false}, "axis": null}, "text": {"field": "t"},
  "color": {"field": "g", "type": "nominal", "scale": {"domain": ["bb","cn","hist","macd","sig","rsi"], "range": ["#b8509a","#222222","#e83a3a","#f08a3c","#4a86d8","#5aa83e"]}, "legend": null}}}
],
"resolve": {"scale": {"y": "independent"}}
},
{
"width": 473, "height": 33,
"layer": [
{"layer": [
{"data": {"name": "zero"}, "mark": {"type": "rule", "color": "#f5a66e", "strokeWidth": 1},
 "encoding": {"y": {"field": "z", "type": "quantitative", "scale": {"domain": [-0.0203, 0.0163], "nice": false, "zero": false},
  "axis": {"orient": "right", "values": [-0.01], "tickCount": 100, "labelExpr": "'-.01'", "tickSize": 2, "tickColor": "#666", "domainColor": "#999", "labelPadding": 1, "labelFontSize": 6, "labelColor": "#555", "title": ["值", "USD"], "titleAngle": 0, "titleAlign": "left", "titleBaseline": "top", "titleX": 3, "titleY": 3, "titleFontSize": 6, "titleFontWeight": "normal", "titleColor": "#444", "titleLineHeight": 8}}}},
{"data": {"name": "ind"}, "mark": {"type": "bar", "size": 1, "color": "#ee5555"},
 "encoding": {"x": {"field": "d", "type": "temporal", "scale": {"domain": [{"year":2018,"month":5,"date":13,"utc":true},{"year":2019,"month":4,"date":12,"utc":true}]}, "axis": null}, "y": {"field": "h", "type": "quantitative"}, "y2": {"datum": 0}}},
{"data": {"name": "ind"}, "mark": {"type": "line", "interpolate": "monotone", "color": "#f7a35c", "strokeWidth": 1},
 "encoding": {"x": {"field": "d", "type": "temporal", "axis": null}, "y": {"field": "m", "type": "quantitative"}}},
{"data": {"name": "ind"}, "mark": {"type": "line", "interpolate": "monotone", "color": "#7aaee8", "strokeWidth": 1},
 "encoding": {"x": {"field": "d", "type": "temporal", "axis": null}, "y": {"field": "s", "type": "quantitative"}}}
]},
{"data": {"name": "txt"}, "transform": [{"filter": "datum.p == 'macd'"}],
 "mark": {"type": "text", "align": "left", "baseline": "middle", "fontSize": 4.8, "clip": false},
 "encoding": {"x": {"field": "d", "type": "temporal", "axis": null}, "y": {"field": "k", "type": "quantitative", "scale": {"domain": [5.5, 0], "nice": false, "zero": false}, "axis": null}, "text": {"field": "t"},
  "color": {"field": "g", "type": "nominal", "scale": {"domain": ["bb","cn","hist","macd","sig","rsi"], "range": ["#b8509a","#222222","#e83a3a","#f08a3c","#4a86d8","#5aa83e"]}, "legend": null}}}
],
"resolve": {"scale": {"y": "independent"}}
},
{
"width": 473, "height": 34,
"layer": [
{"layer": [
{"data": {"name": "levels"}, "mark": {"type": "rule", "color": "#8cc870", "strokeWidth": 1},
 "encoding": {"y": {"field": "lv", "type": "quantitative", "scale": {"domain": [-3, 110], "nice": false, "zero": false},
  "axis": {"orient": "right", "values": [], "tickSize": 2, "domainColor": "#999", "title": ["值", "USD"], "titleAngle": 0, "titleAlign": "left", "titleBaseline": "top", "titleX": 3, "titleY": 7, "titleFontSize": 6, "titleFontWeight": "normal", "titleColor": "#444", "titleLineHeight": 8}}}},
{"data": {"name": "ind"}, "mark": {"type": "line", "color": "#9ccf78", "strokeWidth": 1},
 "encoding": {"x": {"field": "d", "type": "temporal", "scale": {"domain": [{"year":2018,"month":5,"date":13,"utc":true},{"year":2019,"month":4,"date":12,"utc":true}]},
  "axis": {"orient": "bottom", "values": [{"year":2018,"month":5,"date":16,"utc":true},{"year":2018,"month":6,"date":1,"utc":true},{"year":2018,"month":6,"date":18,"utc":true},{"year":2018,"month":7,"date":2,"utc":true},{"year":2018,"month":7,"date":16,"utc":true},{"year":2018,"month":8,"date":1,"utc":true},{"year":2018,"month":8,"date":16,"utc":true},{"year":2018,"month":9,"date":3,"utc":true},{"year":2018,"month":9,"date":17,"utc":true},{"year":2018,"month":10,"date":1,"utc":true},{"year":2018,"month":10,"date":16,"utc":true},{"year":2018,"month":11,"date":1,"utc":true},{"year":2018,"month":11,"date":16,"utc":true},{"year":2018,"month":12,"date":3,"utc":true},{"year":2018,"month":12,"date":17,"utc":true},{"year":2019,"month":1,"date":1,"utc":true},{"year":2019,"month":1,"date":16,"utc":true},{"year":2019,"month":2,"date":1,"utc":true},{"year":2019,"month":2,"date":18,"utc":true},{"year":2019,"month":3,"date":1,"utc":true},{"year":2019,"month":3,"date":18,"utc":true},{"year":2019,"month":4,"date":1,"utc":true}],
   "tickCount": 100, "labelExpr": "utcFormat(datum.value, '%d')", "ticks": false, "domain": false, "labelPadding": 3, "labelFontSize": 6.3, "labelColor": "#333", "labelFlush": false, "labelOverlap": false, "labelBound": false, "title": null}},
  "y": {"field": "r", "type": "quantitative"}}}
]},
{"data": {"name": "txt"}, "transform": [{"filter": "datum.p == 'rsi'"}],
 "mark": {"type": "text", "align": "left", "baseline": "middle", "fontSize": 4.8, "clip": false},
 "encoding": {"x": {"field": "d", "type": "temporal"}, "y": {"field": "k", "type": "quantitative", "scale": {"domain": [5.667, 0], "nice": false, "zero": false}, "axis": null}, "text": {"field": "t"},
  "color": {"field": "g", "type": "nominal", "scale": {"domain": ["bb","cn","hist","macd","sig","rsi"], "range": ["#b8509a","#222222","#e83a3a","#f08a3c","#4a86d8","#5aa83e"]}, "legend": null}}}
],
"resolve": {"scale": {"y": "independent"}}
},
{
"width": 473, "height": 12,
"view": {"stroke": null},
"layer": [
{"data": {"name": "mstart"}, "mark": {"type": "rule", "color": "#777", "strokeWidth": 1},
 "encoding": {"x": {"field": "d", "type": "temporal", "scale": {"domain": [{"year":2018,"month":5,"date":13,"utc":true},{"year":2019,"month":4,"date":12,"utc":true}]}, "axis": null}}},
{"data": {"name": "months"}, "mark": {"type": "text", "fontSize": 6.8, "fontWeight": "bold", "color": "#222", "baseline": "middle"},
 "encoding": {"x": {"field": "d", "type": "temporal", "axis": null}, "text": {"field": "t"}}}
]
}
]
}
